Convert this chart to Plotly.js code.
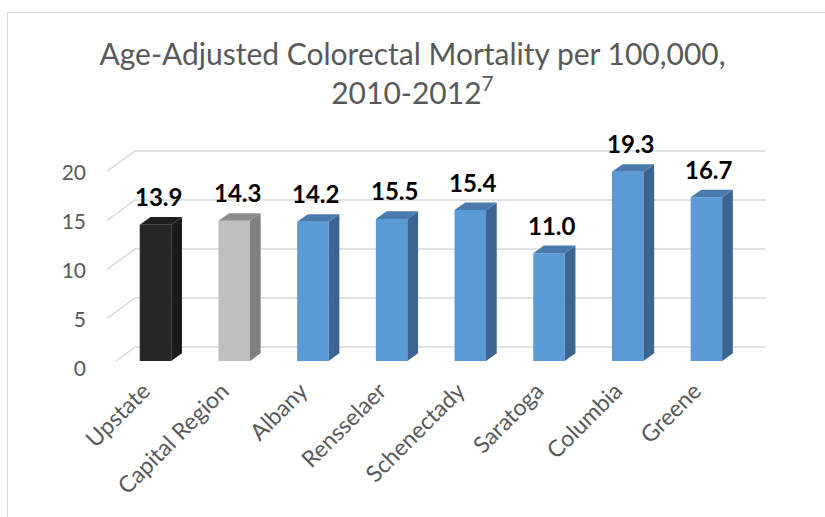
<!DOCTYPE html>
<html>
<head>
<meta charset="utf-8">
<script src="https://cdn.plot.ly/plotly-3.0.1.min.js"></script>
<style>
  html, body { margin: 0; padding: 0; background: #ffffff; }
  #wrap { position: relative; width: 825px; height: 517px; overflow: hidden; }
  #chart { position: absolute; left: 0; top: 0; width: 825px; height: 517px; }
  #frame { position: absolute; left: 7px; top: 12px; width: 840px; height: 540px;
           border-left: 1.5px solid #d9d9d9; border-top: 1.5px solid #d9d9d9; pointer-events: none; }
</style>
</head>
<body>
<div id="wrap">
  <div id="chart"></div>
  <div id="frame"></div>
</div>
<script>
// ---- data ----
const categories = ['Upstate', 'Capital Region', 'Albany', 'Rensselaer', 'Schenectady', 'Saratoga', 'Columbia', 'Greene'];
const barValues = [13.9, 14.3, 14.2, 14.5, 15.4, 11.0, 19.3, 16.7];
const valueLabels = ['13.9', '14.3', '14.2', '15.5', '15.4', '11.0', '19.3', '16.7'];
const yTickValues = [0, 5, 10, 15, 20];
const yTickLabels = ['0', '5', '10', '15', '20'];
const titleLine1 = 'Age-Adjusted Colorectal Mortality per 100,000,';
const titleLine2 = '2010-2012<sup>7</sup>';

// ---- styles ----
const FONT = 'Lato, "Open Sans", sans-serif';
const TEXT_GRAY = '#595959';
const GRID = '#d9d9d9';
function palette(i) {
  if (i === 0) return { front: '#262626', side: '#1a1a1a', top: '#1f1f1f' };
  if (i === 1) return { front: '#bfbfbf', side: '#7f7f7f', top: '#8c8c8c' };
  return { front: '#5b9bd5', side: '#3b6590', top: '#4a7bac' };
}

// ---- geometry (pixels) ----
const FIG_W = 825, FIG_H = 517;
const M = { l: 107, r: 59, t: 140, b: 156 };
const plotW = FIG_W - M.l - M.r;
const plotH = FIG_H - M.t - M.b;
const PX_PER_Y = 9.8;          // pixels per value unit
const PX_PER_X = 78.7;         // pixels per category step
const FIRST_CENTER_PX = 48.5;  // first bar centre from plot left
const xMin = -FIRST_CENTER_PX / PX_PER_X;
const xMax = xMin + plotW / PX_PER_X;
const yMax = plotH / PX_PER_Y;
const BAR_W = 31.5 / PX_PER_X;
const DEPTH_X = 10.7 / PX_PER_X, DEPTH_Y = 7.7 / PX_PER_Y;
const WALL_X = 28 / PX_PER_X, WALL_Y = 14 / PX_PER_Y, FRONT_DROP = 6.5 / PX_PER_Y;

const xIdx = categories.map((c, i) => i);

const shapes = [];
// back-wall gridlines with their diagonal side-wall segments
yTickValues.forEach(v => {
  shapes.push({ type: 'line', layer: 'below', xref: 'x', yref: 'y',
    x0: xMin + WALL_X, x1: xMax, y0: v + WALL_Y, y1: v + WALL_Y,
    line: { color: GRID, width: 1.5 } });
  shapes.push({ type: 'line', layer: 'below', xref: 'x', yref: 'y',
    x0: xMin, y0: v - FRONT_DROP, x1: xMin + WALL_X, y1: v + WALL_Y,
    line: { color: GRID, width: 1.5 } });
});
// 3-D side and top faces of each column
barValues.forEach((v, i) => {
  const p = palette(i);
  const xl = i - BAR_W / 2, xr = i + BAR_W / 2;
  shapes.push({ type: 'path', layer: 'above', xref: 'x', yref: 'y',
    path: `M${xr},0 L${xr + DEPTH_X},${DEPTH_Y} L${xr + DEPTH_X},${v + DEPTH_Y} L${xr},${v} Z`,
    fillcolor: p.side, line: { width: 0 } });
  shapes.push({ type: 'path', layer: 'above', xref: 'x', yref: 'y',
    path: `M${xl},${v} L${xl + DEPTH_X},${v + DEPTH_Y} L${xr + DEPTH_X},${v + DEPTH_Y} L${xr},${v} Z`,
    fillcolor: p.top, line: { width: 0 } });
});

const annotations = barValues.map((v, i) => ({
  x: i, y: v, xref: 'x', yref: 'y', text: valueLabels[i], showarrow: false,
  xshift: 3, yshift: 28, yanchor: 'middle', xanchor: 'center',
  font: { family: FONT, size: 24, color: '#000000', weight: 'bold' }
}));

const trace = {
  type: 'bar', x: xIdx, y: barValues, width: BAR_W,
  marker: { color: xIdx.map(i => palette(i).front), line: { width: 0 } },
  hoverinfo: 'skip'
};

const layout = {
  width: FIG_W, height: FIG_H,
  margin: M,
  paper_bgcolor: '#ffffff', plot_bgcolor: 'rgba(0,0,0,0)',
  showlegend: false,
  title: {
    text: titleLine1 + '<br>' + titleLine2,
    font: { family: FONT, size: 30, color: TEXT_GRAY },
    x: 0.5, xref: 'container', xanchor: 'center',
    y: 1 - 65 / FIG_H, yref: 'container', yanchor: 'top'
  },
  xaxis: {
    range: [xMin, xMax], tickvals: xIdx, ticktext: categories,
    tickangle: -45, showgrid: false, zeroline: false, showline: false,
    ticks: '', ticklabelstandoff: 11, ticklabelshift: -12,
    tickfont: { family: FONT, size: 23, color: TEXT_GRAY }, fixedrange: true
  },
  yaxis: {
    range: [0, yMax], tickvals: yTickValues, ticktext: yTickLabels,
    showgrid: false, zeroline: false, showline: false, ticks: '',
    ticklabelstandoff: 20, ticklabelshift: 8,
    tickfont: { family: FONT, size: 21, color: TEXT_GRAY }, fixedrange: true
  },
  shapes: shapes,
  annotations: annotations
};

Plotly.newPlot('chart', [trace], layout, { staticPlot: true, displayModeBar: false });
</script>
</body>
</html>
